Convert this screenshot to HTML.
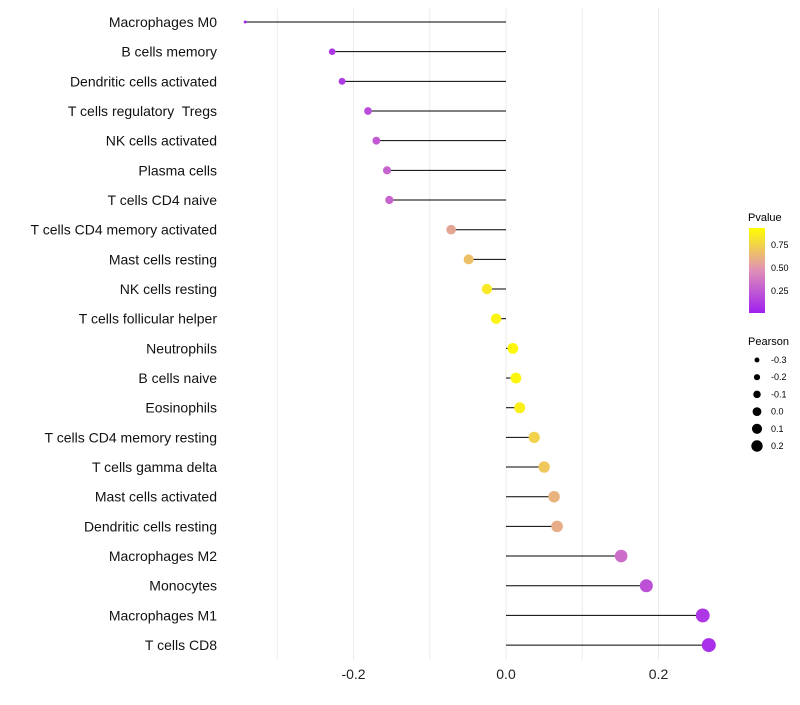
<!DOCTYPE html>
<html><head><meta charset="utf-8"><style>
body{margin:0;background:#fff;font-family:"Liberation Sans",sans-serif}
svg text{font-family:"Liberation Sans",sans-serif}
</style></head><body>
<svg id="chart" width="800" height="700" xmlns="http://www.w3.org/2000/svg">
<g id="grid"></g><g id="marks"></g><g id="axes"></g>
<g id="legend">
<defs><linearGradient id="pg" x1="0" y1="1" x2="0" y2="0">
<stop offset="0" stop-color="#a020f0"/><stop offset="0.5" stop-color="#df8fb8"/><stop offset="1" stop-color="#ffff00"/></linearGradient></defs>
<text x="748" y="221" font-size="11">Pvalue</text>
<rect x="749" y="228" width="16" height="85" fill="url(#pg)"/>
<text x="771" y="248" font-size="9">0.75</text>
<text x="771" y="271" font-size="9">0.50</text>
<text x="771" y="294" font-size="9">0.25</text>
<text x="748" y="345" font-size="11">Pearson</text>
<g id="sizeleg"></g>
</g>
</svg>
<script>
const categories=["Macrophages M0","B cells memory","Dendritic cells activated","T cells regulatory  Tregs","NK cells activated","Plasma cells","T cells CD4 naive","T cells CD4 memory activated","Mast cells resting","NK cells resting","T cells follicular helper","Neutrophils","B cells naive","Eosinophils","T cells CD4 memory resting","T cells gamma delta","Mast cells activated","Dendritic cells resting","Macrophages M2","Monocytes","Macrophages M1","T cells CD8"];
const pearson=[-0.342,-0.228,-0.215,-0.181,-0.170,-0.156,-0.153,-0.072,-0.049,-0.025,-0.013,0.009,0.013,0.018,0.037,0.050,0.063,0.067,0.151,0.184,0.258,0.266];
const pvalue=[0.03,0.1,0.12,0.2,0.25,0.3,0.3,0.6,0.72,0.9,0.95,0.97,0.96,0.93,0.8,0.75,0.66,0.63,0.35,0.22,0.1,0.07];
const xTicks=[-0.2,0.0,0.2];
const sizeLegend=[-0.3,-0.2,-0.1,0.0,0.1,0.2];
const NS="http://www.w3.org/2000/svg";
const xs=v=>506+v*762.5;
const ys=i=>22+i*29.67;
const rs=v=>Math.sqrt(Math.max(2.25,28.55+76.9*v));
const rl=v=>Math.max(1.5,4.4+v*6.5);
function lerp(a,b,t){return a.map((x,i)=>Math.round(x+(b[i]-x)*t));}
function col(p){const lo=[160,32,240],mid=[223,143,184],hi=[255,255,0];const c=p<0.5?lerp(lo,mid,p/0.5):lerp(mid,hi,(p-0.5)/0.5);return `rgb(${c})`;}
function mk(t,a,parent){const e=document.createElementNS(NS,t);for(const k in a)e.setAttribute(k,a[k]);parent.appendChild(e);return e;}
const grid=document.getElementById('grid'),marks=document.getElementById('marks'),axes=document.getElementById('axes');
[-0.3,-0.2,-0.1,0,0.1,0.2].forEach(v=>{const l=mk('line',{x1:xs(v),x2:xs(v),y1:8,y2:660,stroke:'#ebebeb','stroke-width':1},grid);

});
xTicks.forEach(v=>{const t=mk('text',{x:xs(v),y:679,'font-size':14,'text-anchor':'middle',fill:'#222'},axes);t.textContent=v.toFixed(1);

});
categories.forEach((c,i)=>{const y=ys(i);
const t=mk('text',{x:217,y:y+5,'font-size':14,'text-anchor':'end',fill:'#111'},axes);t.textContent=c;
t.style.whiteSpace='pre';


const l=mk('line',{x1:xs(0),x2:xs(pearson[i]),y1:y,y2:y,stroke:'#000','stroke-width':1},marks);


const d=mk('circle',{cx:xs(pearson[i]),cy:y,r:rs(pearson[i]),fill:col(pvalue[i])},marks);

});
const sl=document.getElementById('sizeleg');
sizeLegend.forEach((v,i)=>{const y=360+i*17.2;
const d=mk('circle',{cx:757,cy:y,r:rl(v),fill:'#000'},sl);


const t=mk('text',{x:771,y:y+3,'font-size':9},sl);t.textContent=v.toFixed(1);

});
</script>
</body></html>
